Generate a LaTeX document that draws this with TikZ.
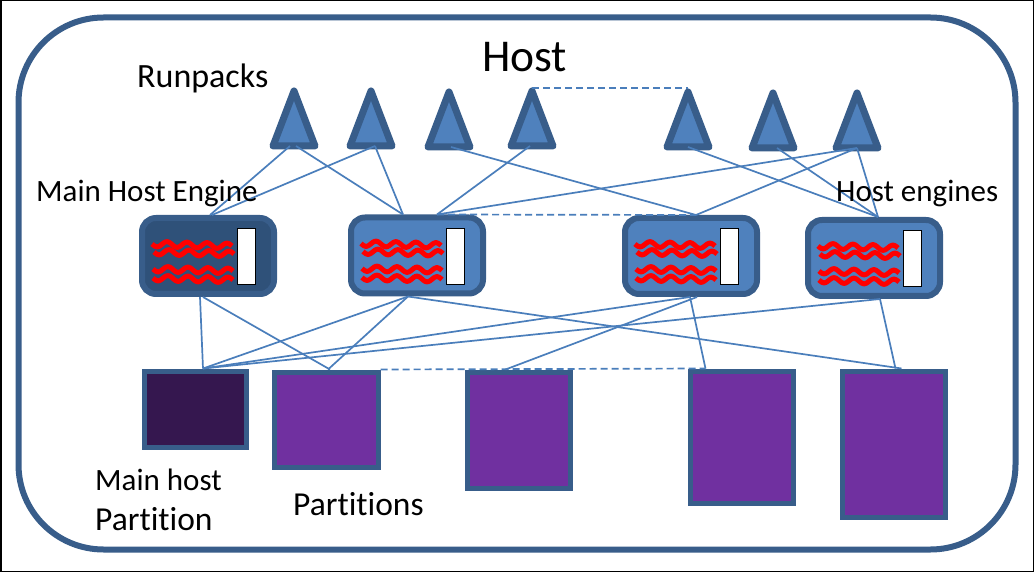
\documentclass[tikz,border=0pt]{standalone}
\usepackage{fontspec}
\setmainfont[Ligatures=NoCommon]{Carlito}
\usetikzlibrary{shapes.geometric}
\definecolor{edgeblue}{HTML}{385D8A}
\definecolor{fillblue}{HTML}{4F81BD}
\definecolor{darkblue}{HTML}{2F5179}
\definecolor{linkblue}{HTML}{4A7EBB}
\definecolor{purplefill}{HTML}{7030A0}
\definecolor{darkpurple}{HTML}{35174F}
\tikzset{
 x=1pt,y=-1pt,
 tri/.style={isosceles triangle,isosceles triangle apex angle=42,isosceles triangle stretches=true,shape border rotate=90,draw=edgeblue,fill=fillblue,line width=7pt,line join=round,minimum width=42pt,minimum height=55pt,inner sep=0pt,outer sep=0pt,anchor=lower side},
 engine/.style={rectangle,draw=edgeblue,fill=#1,line width=6pt,rounded corners=14pt,minimum width=132pt,minimum height=76pt,inner sep=0pt,outer sep=3pt,anchor=center},
 link/.style={draw=linkblue,line width=1.7pt},
 dashlink/.style={draw=linkblue,line width=1.7pt,dash pattern=on 7pt off 4pt},
 squig/.style={draw=red,line width=5pt},
 slot/.style={rectangle,draw=black,fill=white,line width=1pt,minimum width=18pt,minimum height=56pt,inner sep=0pt},
 lab/.style={font=\fontsize{#1}{#1}\selectfont,inner sep=0pt,anchor=base west,black}
}
\newcommand{\squiggle}[3]{\draw[squig] plot[domain=0:#3,samples=70,smooth] ({#1+\x},{#2+2.7*sin(\x*18)+\x*0.025});}
\newcommand{\engineat}[4]{%
 \node[engine=#4] (#1) at (#2,#3) {};
 \squiggle{#2-56}{#3-12}{80}
 \squiggle{#2-54}{#3-4}{80}
 \squiggle{#2-55}{#3+13}{80}
 \squiggle{#2-55}{#3+22}{80}
 \node[slot] (#1s) at (#2+38,#3+1) {};
}
\newcommand{\partat}[6]{%
 \node[rectangle,draw=edgeblue,fill=#6,line width=5pt,inner sep=0pt,outer sep=2.5pt,minimum width=#4 pt-4pt,minimum height=#5 pt-4pt] (#1) at (#2,#3) {};
}
\begin{document}
\begin{tikzpicture}
\useasboundingbox (0,0) rectangle (1034,572);
\fill[white] (0,0) rectangle (1034,572);
\draw[black,line width=1.5pt] (0.75,0.75) rectangle (1033.25,571.25);
\node[draw=edgeblue,line width=6pt,rounded corners=85pt,minimum width=997pt,minimum height=532pt,inner sep=0pt] (host) at (517,283.5) {};
\node[tri] (t1) at (294,146) {};
\node[tri] (t2) at (371,146) {};
\node[tri] (t3) at (449,147) {};
\node[tri] (t4) at (532,146) {};
\node[tri] (t5) at (688,147) {};
\node[tri] (t6) at (773,148) {};
\node[tri] (t7) at (857,148) {};
\engineat{e0}{208}{256}{darkblue}
\engineat{e1}{417}{255.5}{fillblue}
\engineat{e2}{691}{256}{fillblue}
\engineat{e3}{874}{258}{fillblue}
\partat{p0}{195}{409}{106}{80}{darkpurple}
\partat{p1}{326}{419.5}{108}{99}{purplefill}
\partat{p2}{518.5}{430}{107}{120}{purplefill}
\partat{p3}{741.5}{437}{107}{136}{purplefill}
\partat{p4}{893.5}{444}{107}{150}{purplefill}
\draw[link] ([xshift=-4pt]t1.south) -- ([xshift=2pt]e0.north);
\draw[link] ([xshift=2pt]t1.south) -- ([xshift=-14pt]e1.north);
\draw[link] ([xshift=4pt]t2.south) -- ([xshift=4pt]e0.north);
\draw[link] ([xshift=4pt]t2.south) -- ([xshift=-14pt]e1.north);
\draw[link] ([xshift=2pt]t3.south) -- ([xshift=5pt]e2.north);
\draw[link] ([xshift=-2pt]t4.south) -- ([xshift=20pt]e1.north);
\draw[link] (t5.south) -- ([xshift=4pt]e3.north);
\draw[link] ([xshift=4pt]t6.south) -- ([xshift=4pt]e3.north);
\draw[link] (t7.south) -- ([xshift=20pt]e1.north);
\draw[link] (t7.south) -- ([xshift=5pt]e2.north);
\draw[link] (t7.south) -- ([xshift=4pt]e3.north);
\draw[link] ([xshift=-8pt]e0.south) -- ([xshift=8pt]p0.north);
\draw[link] ([xshift=-5pt]e0.south) -- ([xshift=4pt]p1.north);
\draw[link] ([xshift=-9pt]e1.south) -- ([xshift=8pt]p0.north);
\draw[link] ([xshift=-9pt]e1.south) -- ([xshift=2pt]p1.north);
\draw[link] ([xshift=-9pt]e1.south) -- ([xshift=8pt]p4.north);
\draw[link] ([xshift=-1pt]e2.south) -- ([xshift=8pt]p0.north);
\draw[link] ([xshift=6pt]e2.south) -- ([xshift=-13pt]p2.north);
\draw[link] ([xshift=-1pt]e2.south) -- ([xshift=-36pt]p3.north);
\draw[link] ([xshift=6pt]e3.south) -- ([xshift=8pt]p0.north);
\draw[link] ([xshift=6pt]e3.south) -- ([xshift=2pt]p4.north);
\draw[dashlink] ([yshift=3pt]t4.north) -- ([yshift=3pt]t4.north -| t5.north);
\draw[dashlink] ([xshift=20pt]e1.north) -- ([xshift=5pt]e2.north);
\draw[dashlink] (p1.north east) -- ([xshift=-36pt]p3.north);
\node[lab=45.5] (thost) at (482,72) {Host};
\node[lab=34] (trun) at (137,88) {Runpacks};
\node[lab=31] (tmain) at (36,202) {Main Host Engine};
\node[lab=31] (teng) at (836,202) {Host engines};
\node[lab=31] (tmp1) at (95,490) {Main host};
\node[lab=33.5] (tmp2) at (95,530) {Partition};
\node[lab=33.5] (tpart) at (293,515) {Partitions};
\end{tikzpicture}
\end{document}
